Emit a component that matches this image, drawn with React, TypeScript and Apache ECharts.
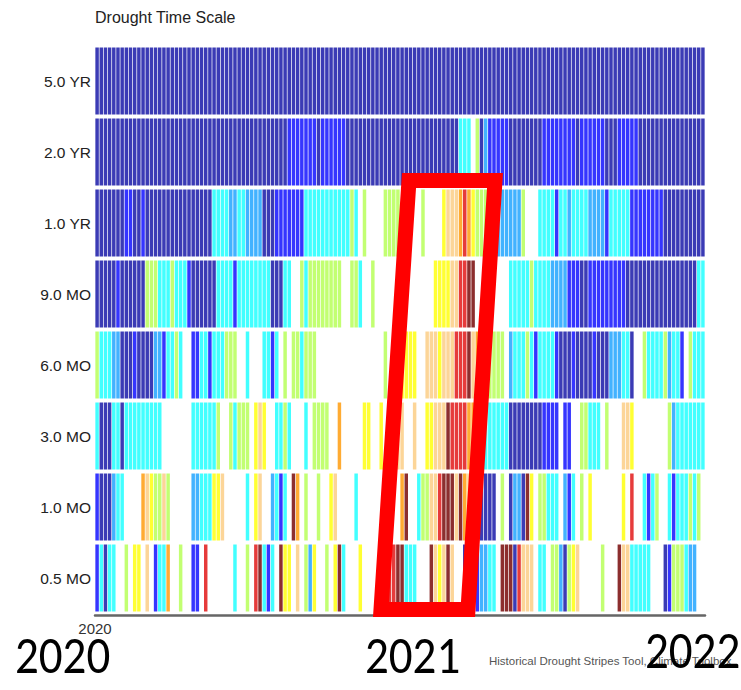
import React, { useEffect, useRef } from "react";
import * as echarts from "echarts";

// Drought / wetness class of each stripe, one letter per class
// D = exceptional drought ... Y = abnormally dry, _ = normal, G = slightly wet ... N = exceptionally wet
const classColors: Record<string, string> = {
  N: "#3b3bb5",
  B: "#3535ff",
  L: "#42b2ff",
  C: "#42ffff",
  G: "#c2ff72",
  _: "#ffffff",
  Y: "#ffff33",
  P: "#fcd598",
  O: "#ffab33",
  R: "#e63b3b",
  D: "#8c2e2e",
};

const timeScales = ["5.0 YR", "2.0 YR", "1.0 YR", "9.0 MO", "6.0 MO", "3.0 MO", "1.0 MO", "0.5 MO"];
const xTickLabels = ["2020"];
const yearLabels = ["2020", "2021", "2022"];
const stripeCount = 146; // 5-day periods over two years

// run-length encoded stripes: [class, number of consecutive periods]
type Run = [string, number];
const runs5yr: Run[] = [["N", 146]];
const runs2yr: Run[] = [["N",46],["B",7],["N",1],["B",6],["N",27],["C",3],["_",1],["G",1],["N",1],["L",1],["B",5],["N",8],["B",8],["N",1],["B",6],["N",3],["B",5],["N",16]];
const runs1yr: Run[] = [["N",7],["B",2],["N",2],["B",1],["N",16],["C",4],["L",2],["C",2],["L",4],["N",3],["B",7],["C",11],["G",1],["C",1],["_",1],["G",1],["_",4],["G",4],["_",5],["G",1],["_",4],["Y",1],["P",3],["O",1],["R",1],["O",1],["Y",1],["G",4],["L",7],["G",1],["_",3],["C",4],["B",1],["C",2],["L",1],["C",4],["L",4],["B",1],["C",5],["B",8],["N",10]];
const runs9mo: Run[] = [["N",5],["B",1],["N",6],["G",3],["C",3],["G",1],["C",3],["B",1],["N",6],["C",4],["B",1],["C",8],["N",3],["C",2],["_",2],["G",1],["C",1],["G",8],["_",2],["G",2],["C",1],["_",2],["G",1],["_",14],["Y",4],["P",2],["R",2],["D",2],["_",8],["C",5],["G",1],["C",4],["L",4],["B",3],["N",2],["B",9],["N",17],["C",2]];
const runs6mo: Run[] = [["G",1],["C",3],["L",2],["N",3],["B",1],["N",4],["L",2],["B",1],["C",2],["G",1],["C",1],["_",2],["B",2],["C",2],["B",1],["C",3],["G",3],["_",2],["C",1],["_",3],["C",2],["B",1],["C",1],["_",1],["G",1],["_",1],["G",2],["C",1],["G",3],["_",16],["G",1],["_",3],["Y",4],["_",2],["P",3],["Y",1],["P",3],["R",3],["D",1],["P",1],["O",1],["G",6],["_",1],["L",1],["C",3],["G",1],["C",1],["B",1],["C",4],["B",1],["N",3],["B",1],["N",4],["B",1],["N",3],["L",3],["C",2],["N",1],["_",2],["G",1],["C",4],["G",1],["L",1],["C",2],["B",1],["_",1],["G",1],["C",3]];
const runs3mo: Run[] = [["C",1],["N",3],["C",2],["N",1],["C",9],["_",7],["C",6],["G",1],["_",2],["G",1],["C",1],["G",3],["_",1],["Y",1],["P",1],["Y",1],["_",2],["C",2],["G",1],["C",1],["_",3],["C",1],["_",1],["G",4],["_",2],["O",1],["_",5],["Y",2],["_",2],["Y",1],["_",3],["P",2],["_",2],["P",1],["_",2],["Y",2],["P",3],["D",1],["R",4],["O",2],["Y",1],["C",7],["N",8],["B",4],["_",1],["B",2],["_",2],["G",2],["C",3],["_",1],["G",1],["_",3],["P",2],["Y",1],["_",8],["G",1],["L",1],["C",7]];
const runs1mo: Run[] = [["B",1],["N",3],["L",1],["C",2],["_",4],["O",1],["P",1],["Y",1],["G",2],["P",1],["G",1],["_",5],["L",2],["C",3],["Y",2],["P",1],["_",5],["C",1],["_",1],["Y",1],["P",1],["_",2],["L",1],["C",1],["B",1],["C",1],["_",1],["D",1],["O",1],["_",1],["G",1],["_",2],["G",1],["_",2],["Y",1],["P",1],["_",4],["C",1],["_",10],["O",1],["D",1],["_",2],["C",1],["G",2],["P",2],["R",1],["D",3],["P",1],["D",1],["O",1],["P",1],["D",1],["N",5],["_",1],["G",1],["_",1],["N",1],["L",2],["N",1],["D",1],["Y",1],["_",1],["G",2],["C",3],["_",1],["L",1],["B",1],["C",1],["_",1],["G",1],["_",1],["Y",1],["_",7],["Y",1],["_",1],["R",1],["_",2],["C",1],["B",1],["C",1],["G",1],["_",2],["C",1],["B",1],["C",3],["G",1],["C",1],["G",1],["_",1]];
const runs05mo: Run[] = [["B",1],["C",1],["N",1],["C",2],["_",2],["G",1],["_",1],["Y",2],["_",1],["P",1],["_",1],["B",1],["C",2],["O",1],["_",2],["G",1],["_",2],["B",2],["_",1],["R",1],["_",6],["C",1],["_",2],["G",1],["_",1],["R",1],["D",1],["C",1],["B",1],["C",1],["_",1],["D",1],["Y",2],["_",1],["P",1],["_",1],["G",1],["L",1],["Y",1],["_",2],["G",1],["_",1],["Y",1],["D",1],["C",1],["_",3],["Y",1],["_",6],["R",2],["D",2],["C",3],["_",3],["D",1],["P",1],["Y",1],["P",1],["D",1],["P",1],["_",2],["N",3],["B",1],["L",2],["C",2],["_",1],["D",3],["N",1],["R",1],["P",3],["_",1],["C",2],["_",1],["G",2],["L",1],["N",1],["G",1],["Y",1],["P",1],["_",5],["G",1],["_",3],["D",1],["P",2],["C",5],["_",3],["N",1],["B",1],["G",3],["C",1],["L",2],["_",2]];

const rowRuns: Run[][] = [runs5yr, runs2yr, runs1yr, runs9mo, runs6mo, runs3mo, runs1mo, runs05mo];

function buildStripes() {
  const out: { value: [number, number]; itemStyle: { color: string } }[] = [];
  rowRuns.forEach((runs, row) => {
    let i = 0;
    runs.forEach(([cls, n]) => {
      for (let k = 0; k < n; k++, i++) {
        if (cls !== "_" && i < stripeCount) {
          out.push({ value: [i, row], itemStyle: { color: classColors[cls] } });
        }
      }
    });
  });
  return out;
}

const sansFont = "Liberation Sans";
const bigFont = "Carlito";

export default function App() {
  const ref = useRef<HTMLDivElement>(null);

  useEffect(() => {
    if (!ref.current) return;
    const chart = echarts.init(ref.current, null, { renderer: "svg" });

    const yearText = (text: string, x: number, y: number) => ({
      type: "text",
      x,
      y,
      z: 101,
      scaleX: 0.87,
      style: {
        text,
        fontFamily: bigFont,
        fontSize: 54,
        fill: "#000000",
        verticalAlign: "middle",
      },
    });

    chart.setOption({
      animation: false,
      backgroundColor: "#ffffff",
      textStyle: { fontFamily: sansFont },
      grid: { left: 95, right: 36, top: 45.5, bottom: 76.5 },
      xAxis: {
        type: "value",
        min: 0,
        max: stripeCount,
        interval: stripeCount,
        offset: 2,
        axisLine: { show: true, lineStyle: { color: "#666666", width: 2.5 } },
        axisTick: { show: false },
        splitLine: { show: false },
        axisLabel: {
          formatter: (v: number) => (v === 0 ? xTickLabels[0] : ""),
          fontFamily: sansFont,
          fontSize: 15,
          color: "#333333",
          margin: 5,
        },
      },
      yAxis: {
        type: "category",
        data: timeScales,
        inverse: true,
        axisLine: { show: false },
        axisTick: { show: false },
        splitLine: { show: false },
        axisLabel: { fontFamily: sansFont, fontSize: 15.5, color: "#222222", margin: 4 },
      },
      series: [
        {
          type: "custom",
          data: buildStripes(),
          renderItem: (params: any, api: any) => {
            const i = api.value(0);
            const row = api.value(1);
            const p = api.coord([i, row]);
            const w = api.size([1, 0])[0];
            const h = api.size([0, 1])[1];
            return {
              type: "rect",
              shape: { x: p[0] + 0.35, y: p[1] - h / 2 + 2, width: w - 0.7, height: h - 4 },
              style: { fill: api.visual("color") },
            };
          },
        },
      ],
      graphic: [
        {
          type: "text",
          left: 95,
          top: 9,
          style: { text: "Drought Time Scale", fontFamily: sansFont, fontSize: 16, fill: "#222222" },
        },
        {
          type: "polygon",
          z: 100,
          shape: { points: [[409, 180.5], [495, 180.5], [468, 609.5], [381, 609.5]] },
          style: { fill: "none", stroke: "#ff0000", lineWidth: 15, lineJoin: "miter" },
        },
        {
          type: "text",
          x: 489,
          y: 661,
          z: 100,
          style: {
            text: "Historical Drought Stripes Tool, Climate Toolbox",
            fontFamily: sansFont,
            fontSize: 11.5,
            fill: "#555555",
            verticalAlign: "middle",
          },
        },
        yearText(yearLabels[0], 15, 655),
        yearText(yearLabels[1], 365, 655),
        yearText(yearLabels[2], 645, 650),
      ],
    });
    return () => chart.dispose();
  }, []);

  return (
    <div
      ref={ref}
      style={{ position: "fixed", left: 0, top: 0, width: 741, height: 690, background: "#fff" }}
    />
  );
}
